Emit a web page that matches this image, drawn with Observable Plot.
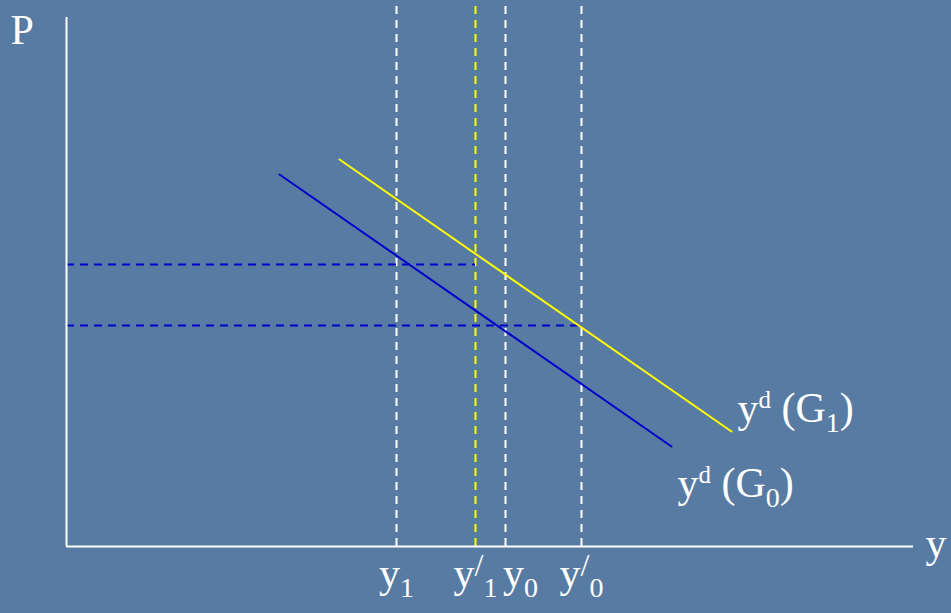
<!DOCTYPE html>
<html>
<head>
<meta charset="utf-8">
<script src="https://cdn.jsdelivr.net/npm/d3@7"></script>
<script src="https://cdn.jsdelivr.net/npm/@observablehq/plot@0.6"></script>
<style>
  html, body { margin: 0; padding: 0; background: #587ba3; }
  svg { display: block; }
</style>
</head>
<body>
<div id="chart"></div>
<script>
// Output levels marked on the y axis (horizontal units from origin)
const tickLabels = ["y_{1}", "y^{/}_{1}", "y_{0}", "y^{/}_{0}"];
const tickValues = [330, 409, 439, 515];
const tickShift = [0, 0, 15, 0];
// Price levels (vertical units from origin) and how far each dashed guide runs
const priceLevels = [282, 221];
const priceReach = [409, 515];
// Aggregate demand curves: endpoints (output, price)
const adG0Output = [213, 605];
const adG0Price = [372, 100];
const adG1Output = [273, 665];
const adG1Price = [387, 115];
// Annotation labels
const annLabels = ["y^{d} (G_{1})", "y^{d} (G_{0})", "y", "P"];
const annOutput = [671, 611, 859, -56];
const annPrice = [125, 50, -10, 503];
// Axis extents
const xAxisEnd = 847;
const yAxisEnd = 529;

const adG0 = adG0Output.map((x, i) => ({x, p: adG0Price[i]}));
const adG1 = adG1Output.map((x, i) => ({x, p: adG1Price[i]}));
const ticks = tickValues.map((x, i) => ({x, label: tickLabels[i], dx: tickShift[i]}));
const prices = priceLevels.map((p, i) => ({p, reach: priceReach[i]}));
const anns = annLabels.map((label, i) => ({label, x: annOutput[i], p: annPrice[i]}));

const dash = "8,6";
const font = "Liberation Serif, Times New Roman, serif";
const fs = 42;

const chart = Plot.plot({
  width: 951,
  height: 613,
  marginLeft: 66,
  marginRight: 38,
  marginTop: 0,
  marginBottom: 67,
  x: {domain: [0, xAxisEnd], axis: null},
  y: {domain: [0, 546], axis: null},
  style: {background: "#587ba3", fontFamily: font, overflow: "visible"},
  marks: [
    // vertical dashed guides
    Plot.ruleX(ticks.filter((d, i) => i !== 1), {x: "x", y1: 0, y2: 546, stroke: "white", strokeWidth: 2, strokeDasharray: dash}),
    Plot.ruleX(ticks.filter((d, i) => i === 1), {x: "x", y1: 0, y2: 546, stroke: "#ffff00", strokeWidth: 2, strokeDasharray: dash}),
    // horizontal dashed price guides
    Plot.ruleY(prices, {y: "p", x1: 0, x2: "reach", stroke: "#0000cc", strokeWidth: 2, strokeDasharray: dash}),
    // AD curves
    Plot.line(adG0, {x: "x", y: "p", stroke: "#0000cc", strokeWidth: 2}),
    Plot.line(adG1, {x: "x", y: "p", stroke: "#ffff00", strokeWidth: 2}),
    // axes
    Plot.ruleX([0], {y1: 0, y2: yAxisEnd, stroke: "white", strokeWidth: 2}),
    Plot.ruleY([0], {x1: 0, x2: xAxisEnd, stroke: "white", strokeWidth: 2}),
    // tick labels
    ...ticks.map(t => Plot.text([t], {x: "x", y: -40, text: "label", dx: t.dx, textAnchor: "middle", lineAnchor: "bottom", fill: "white", fontSize: fs, fontFamily: font, className: "rich"})),
    // annotations
    Plot.text(anns, {x: "x", y: "p", text: "label", textAnchor: "start", lineAnchor: "bottom", fill: "white", fontSize: fs, fontFamily: font, className: "rich"})
  ]
});

// Convert simple markup (_{..} subscript, ^{..} superscript) into tspans
const NS = "http://www.w3.org/2000/svg";
function richify(textEl) {
  const src = textEl.textContent;
  const parts = [];
  let i = 0;
  while (i < src.length) {
    if ((src[i] === "_" || src[i] === "^") && src[i + 1] === "{") {
      const end = src.indexOf("}", i);
      parts.push({t: src.slice(i + 2, end), kind: src[i] === "_" ? "sub" : "sup"});
      i = end + 1;
    } else {
      let j = i;
      while (j < src.length && !((src[j] === "_" || src[j] === "^") && src[j + 1] === "{")) j++;
      parts.push({t: src.slice(i, j), kind: "base"});
      i = j;
    }
  }
  textEl.textContent = "";
  let shift = 0;
  for (const p of parts) {
    const ts = document.createElementNS(NS, "tspan");
    let target = 0, size = null;
    if (p.kind === "sub") { target = 10; size = "28px"; }
    else if (p.kind === "sup") {
      target = p.t === "/" ? -11 : -14;
      size = p.t === "/" ? "32px" : "25px";
    }
    const dy = target - shift;
    if (dy !== 0) ts.setAttribute("dy", dy);
    shift = target;
    if (size) ts.setAttribute("font-size", size);
    ts.textContent = p.t;
    textEl.appendChild(ts);
  }
}
chart.querySelectorAll(".rich text").forEach(richify);

document.getElementById("chart").appendChild(chart);
</script>
</body>
</html>
